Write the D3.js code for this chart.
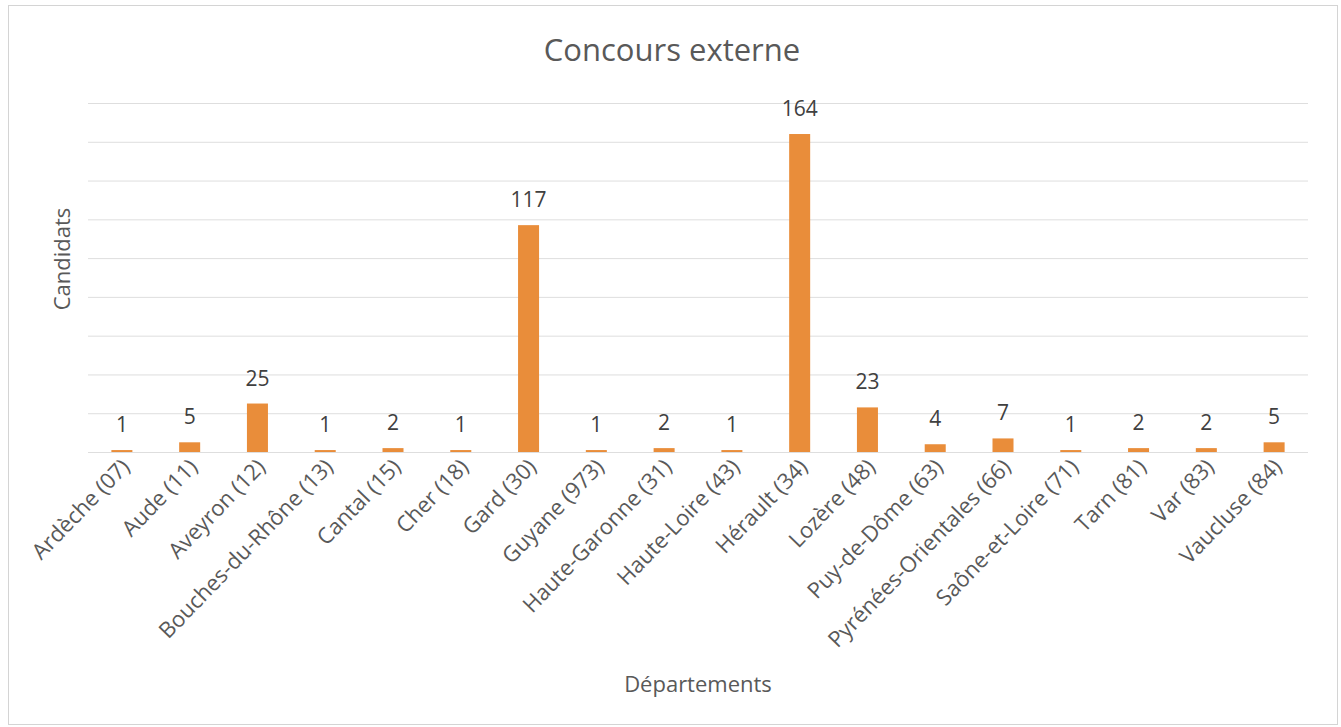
<!DOCTYPE html>
<html>
<head>
<meta charset="utf-8">
<script src="https://cdn.jsdelivr.net/npm/d3@7"></script>
<style>
  body { margin: 0; background: #fff; }
  text { font-family: "Open Sans", "Noto Sans", sans-serif; fill: #595959; }
</style>
</head>
<body>
<div id="chart"></div>
<script>
// data
var departements = ["Ardèche (07)", "Aude (11)", "Aveyron (12)", "Bouches-du-Rhône (13)",
  "Cantal (15)", "Cher (18)", "Gard (30)", "Guyane (973)", "Haute-Garonne (31)",
  "Haute-Loire (43)", "Hérault (34)", "Lozère (48)", "Puy-de-Dôme (63)",
  "Pyrénées-Orientales (66)", "Saône-et-Loire (71)", "Tarn (81)", "Var (83)", "Vaucluse (84)"];
var candidats = [1, 5, 25, 1, 2, 1, 117, 1, 2, 1, 164, 23, 4, 7, 1, 2, 2, 5];
var yTicks = [0, 20, 40, 60, 80, 100, 120, 140, 160, 180];

var W = 1341, H = 727;
var margin = {top: 103, right: 33, bottom: 275, left: 88};
var width = W - margin.left - margin.right,
    height = H - margin.top - margin.bottom;

var svg = d3.select("#chart").append("svg")
  .attr("width", W).attr("height", H);

// outer chart border
svg.append("rect")
  .attr("x", 8.5).attr("y", 5.5)
  .attr("width", 1329).attr("height", 719)
  .attr("fill", "none").attr("stroke", "#d4d4d4");

var g = svg.append("g")
  .attr("transform", "translate(" + margin.left + "," + margin.top + ")");

var x = d3.scaleBand().domain(departements).range([0, width]).paddingInner(0.69).paddingOuter(0.345);
var y = d3.scaleLinear().domain([0, 180]).range([height, 0]);

// gridlines
g.selectAll(".grid")
  .data(yTicks)
  .enter().append("line")
    .attr("class", "grid")
    .attr("x1", 0).attr("x2", width)
    .attr("y1", function(d) { return y(d) + 0.5; })
    .attr("y2", function(d) { return y(d) + 0.5; })
    .attr("stroke", "#dedede")
    .attr("stroke-width", 1);

// bars
g.selectAll(".bar")
  .data(candidats)
  .enter().append("rect")
    .attr("class", "bar")
    .attr("x", function(d, i) { return x(departements[i]); })
    .attr("y", function(d) { return y(d); })
    .attr("width", x.bandwidth())
    .attr("height", function(d) { return y(0) - y(d); })
    .attr("fill", "#E98D3A");

// value labels
g.selectAll(".val")
  .data(candidats)
  .enter().append("text")
    .attr("class", "val")
    .attr("x", function(d, i) { return x(departements[i]) + x.bandwidth() / 2; })
    .attr("y", function(d) { return y(d) - 18; })
    .attr("text-anchor", "middle")
    .style("font-size", "21px")
    .style("fill", "#404040")
    .text(function(d) { return d; });

// x axis (labels only)
var xAxis = g.append("g")
  .attr("transform", "translate(0," + height + ")")
  .call(d3.axisBottom(x).tickSize(0).tickPadding(0));
xAxis.select(".domain").remove();
xAxis.selectAll("text")
  .attr("dy", null)
  .attr("y", 0)
  .attr("transform", "translate(9,16) rotate(-46)")
  .style("text-anchor", "end")
  .style("font-size", "22px")
  .style("font-family", "'Open Sans', sans-serif")
  .attr("fill", "#595959");

// title
svg.append("text")
  .attr("x", 672)
  .attr("y", 61)
  .attr("text-anchor", "middle")
  .style("font-size", "31px")
  .text("Concours externe");

// axis titles
svg.append("text")
  .attr("x", margin.left + width / 2)
  .attr("y", 692)
  .attr("text-anchor", "middle")
  .style("font-size", "22px")
  .text("Départements");

svg.append("text")
  .attr("transform", "translate(70,259) rotate(-90)")
  .attr("text-anchor", "middle")
  .style("font-size", "22px")
  .text("Candidats");
</script>
</body>
</html>
